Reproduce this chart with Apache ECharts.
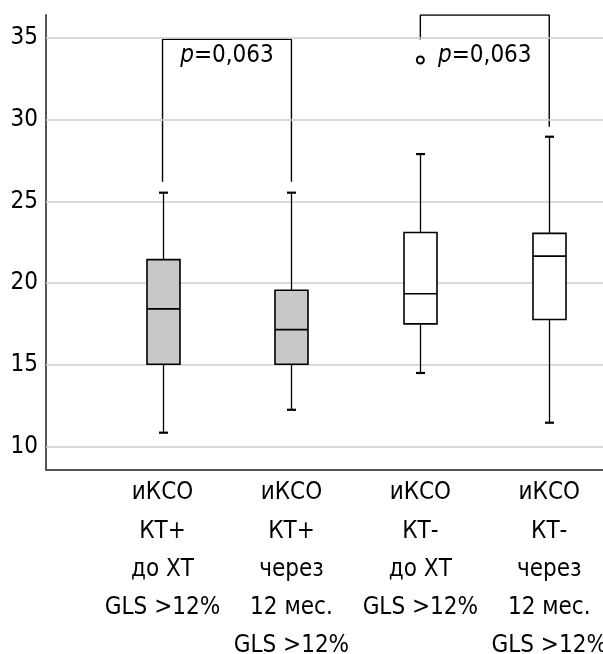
<!DOCTYPE html>
<html>
<head>
<meta charset="utf-8">
<script src="https://cdn.jsdelivr.net/npm/echarts@6/dist/echarts.min.js"></script>
<style>
html,body{margin:0;padding:0;background:#fff;}
#chart{width:603px;height:654px;}
</style>
</head>
<body>
<div id="chart"></div>
<script>
// ---- data ----
var categories = [
  'иКСО\nКТ+\nдо ХТ\nGLS >12%',
  'иКСО\nКТ+\nчерез\n12 мес.\nGLS >12%',
  'иКСО\nКТ-\nдо ХТ\nGLS >12%',
  'иКСО\nКТ-\nчерез\n12 мес.\nGLS >12%'
];
var positions = [1, 2, 3, 4];
var lowWhisker = [10.86, 12.26, 14.51, 11.47];
var q1 = [15.04, 15.04, 17.51, 17.78];
var median = [18.43, 17.16, 19.35, 21.65];
var q3 = [21.44, 19.57, 23.10, 23.04];
var highWhisker = [25.53, 25.53, 27.89, 28.95];
var outliers = [[3, 33.64]];
var yTicks = [10, 15, 20, 25, 30, 35];
var bracket1 = [[1, 26.2], [1, 34.9], [2, 34.9], [2, 26.2]];
var bracket2 = [[3, 34.9], [3, 36.39], [4, 36.39], [4, 29.56]];
var pLabels = [[1.5, 33.9, '0,063'], [3.5, 33.9, '0,063']];

// ---- style ----
var FONT = "'DejaVu Sans Condensed', 'Liberation Sans Narrow', Roboto, sans-serif";
var boxFills = ['#c8c8c8', '#c8c8c8', '#ffffff', '#ffffff'];
var BOX_W = 33, CAP_W = 9;

var boxData = positions.map(function (p, i) {
  return [p, lowWhisker[i], q1[i], median[i], q3[i], highWhisker[i], i];
});

function renderBox(params, api) {
  var x = api.value(0);
  var pLow = api.coord([x, api.value(1)]);
  var pQ1 = api.coord([x, api.value(2)]);
  var pMed = api.coord([x, api.value(3)]);
  var pQ3 = api.coord([x, api.value(4)]);
  var pHigh = api.coord([x, api.value(5)]);
  var idx = api.value(6);
  var cx = Math.round(pQ1[0]) + 0.5;
  var line = { stroke: '#000', lineWidth: 1.3 };
  var cap = { stroke: '#000', lineWidth: 2.2 };
  return {
    type: 'group',
    children: [
      { type: 'line', shape: { x1: cx, y1: pQ3[1], x2: cx, y2: pHigh[1] }, style: line },
      { type: 'line', shape: { x1: cx, y1: pQ1[1], x2: cx, y2: pLow[1] }, style: line },
      { type: 'line', shape: { x1: cx - CAP_W / 2, y1: pHigh[1], x2: cx + CAP_W / 2, y2: pHigh[1] }, style: cap },
      { type: 'line', shape: { x1: cx - CAP_W / 2, y1: pLow[1], x2: cx + CAP_W / 2, y2: pLow[1] }, style: cap },
      { type: 'rect', shape: { x: cx - BOX_W / 2, y: pQ3[1], width: BOX_W, height: pQ1[1] - pQ3[1] },
        style: { fill: boxFills[idx], stroke: '#000', lineWidth: 1.6 } },
      { type: 'line', shape: { x1: cx - BOX_W / 2, y1: pMed[1], x2: cx + BOX_W / 2, y2: pMed[1] }, style: { stroke: '#000', lineWidth: 1.6 } }
    ]
  };
}

var chart = echarts.init(document.getElementById('chart'), null, { renderer: 'canvas' });
chart.setOption({
  animation: false,
  backgroundColor: '#fff',
  textStyle: { fontFamily: FONT },
  grid: { left: 46, right: 0, top: 15, bottom: 184, containLabel: false, outerBoundsMode: 'none' },
  xAxis: {
    type: 'value',
    min: 0.096,
    max: 4.417,
    axisLine: { show: true, onZero: false, lineStyle: { color: '#555', width: 2 } },
    axisTick: { show: false },
    splitLine: { show: false },
    axisLabel: {
      customValues: positions,
      hideOverlap: false,
      formatter: function (v) { return categories[Math.round(v) - 1] || ''; },
      fontFamily: FONT, fontSize: 24, color: '#000', lineHeight: 38.2, margin: 4,
      align: 'center', verticalAlign: 'top'
    }
  },
  yAxis: {
    type: 'value',
    min: 8.58,
    max: 36.39,
    axisLine: { show: true, lineStyle: { color: '#555', width: 2 } },
    axisTick: { show: false },
    splitLine: { show: false },
    axisLabel: {
      customValues: yTicks,
      fontFamily: FONT, fontSize: 24, color: '#000', margin: 8
    }
  },
  series: [
    {
      type: 'line', data: [], silent: true, z: 1,
      markLine: {
        silent: true, symbol: ['none', 'none'], label: { show: false },
        lineStyle: { color: '#cdcdcd', width: 1.6, type: 'solid' },
        data: yTicks.map(function (t) { return { yAxis: t }; })
      }
    },
    { type: 'custom', renderItem: renderBox, data: boxData, z: 5, silent: true },
    {
      type: 'line', data: bracket1, symbol: 'none', silent: true, z: 4,
      lineStyle: { color: '#000', width: 1.4 }
    },
    {
      type: 'line', data: bracket2, symbol: 'none', silent: true, z: 4,
      lineStyle: { color: '#000', width: 1.4 }
    },
    {
      type: 'scatter', data: outliers, symbol: 'emptyCircle', symbolSize: 7, silent: true, z: 6,
      itemStyle: { color: '#000', borderWidth: 1, opacity: 1 }
    },
    {
      type: 'scatter', data: pLabels, symbolSize: 0, silent: true, z: 6,
      itemStyle: { opacity: 1 },
      label: {
        show: true, position: 'inside',
        formatter: function (p) { return '{i|p}=' + p.value[2]; },
        fontFamily: FONT, fontSize: 24, color: '#000', opacity: 1,
        rich: { i: { fontStyle: 'italic', fontFamily: FONT, fontSize: 24, color: '#000' } }
      }
    }
  ]
});
</script>
</body>
</html>
